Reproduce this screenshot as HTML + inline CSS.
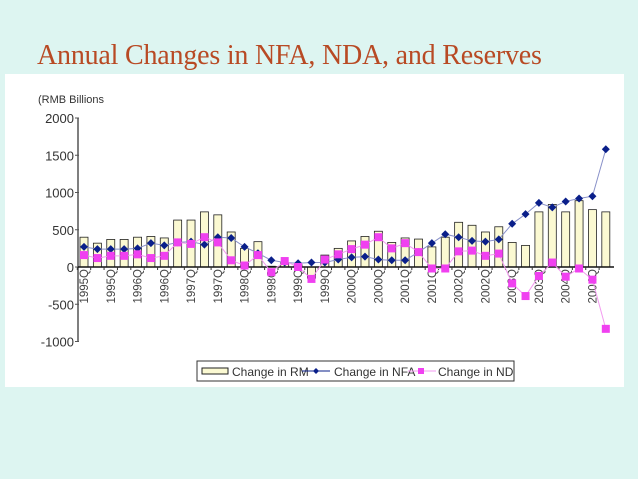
<!DOCTYPE html>
<html><head><meta charset="utf-8"><style>
body{margin:0;width:638px;height:479px;background:#ddf5f1;overflow:hidden;position:relative;font-family:"Liberation Sans",sans-serif}
#title{position:absolute;left:37px;top:40px;font-family:"Liberation Serif",serif;font-size:28px;color:#b84a24;white-space:nowrap;letter-spacing:-0.2px}
#panel{position:absolute;left:5px;top:74px;width:619px;height:313px;background:#fff}
svg{position:absolute;left:0;top:0}
</style></head><body>
<div id="title">Annual Changes in NFA, NDA, and Reserves</div>
<div id="panel"></div>
<svg id="chart" width="638" height="479"></svg>
<script>
const quarters=[];for(let y=1995;y<=2004;y++)for(let q=1;q<=4;q++)quarters.push(y+"Q"+q);
const rmValues=[400,320,370,370,400,410,390,630,630,740,700,470,250,340,10,60,30,-150,160,250,350,410,480,330,390,375,270,400,600,560,470,540,330,290,740,840,740,890,770,740];
const nfaValues=[270,240,240,240,250,320,290,330,340,300,400,390,270,185,90,60,50,60,60,100,130,140,100,90,90,200,320,440,400,350,340,370,580,710,860,800,880,920,950,1580];
const ndaValues=[160,120,150,150,170,120,150,330,310,400,330,90,20,160,-70,80,0,-160,100,170,240,300,400,250,320,200,-20,-20,210,220,150,180,-220,-390,-120,60,-130,-20,-170,-830];
const yTicks=[2000,1500,1000,500,0,-500,-1000];
const NS="http://www.w3.org/2000/svg",svg=document.getElementById('chart');
const y=v=>267-v*0.0745, x=i=>84+i*13.38;
function mk(t,a,name,txt){const e=document.createElementNS(NS,t);for(const k in a)e.setAttribute(k,a[k]);if(txt!==undefined)e.textContent=txt;svg.appendChild(e);return e;}
mk('text',{x:38,y:103,'font-size':11,fill:'#333'},'y-axis-unit','(RMB Billions');
mk('line',{x1:78,y1:y(2000),x2:78,y2:y(-1000),stroke:'#555','stroke-width':1.5},'y-axis');
yTicks.forEach(t=>{const tk=mk('line',{x1:75,y1:y(t),x2:79,y2:y(t),stroke:'#555'},'y-tick');
const lb=mk('text',{x:74,y:y(t)+5,'font-size':13,'text-anchor':'end',fill:'#333'},'y-tick-label',String(t));});
rmValues.forEach((v,i)=>{const b=mk('rect',{x:x(i)-4,y:Math.min(y(v),y(0)),width:8,height:Math.abs(y(v)-y(0)),fill:'#fbf9d2',stroke:'#222','stroke-width':0.8},'bar-rm');});
mk('line',{x1:78,y1:y(0),x2:614,y2:y(0),stroke:'#111','stroke-width':1.5},'x-axis');
quarters.forEach((q,i)=>{mk('line',{x1:x(i)-6.7,y1:y(0),x2:x(i)-6.7,y2:y(0)+3,stroke:'#333'},'x-tick');
if(i%2===0){mk('text',{x:0,y:0,'font-size':11.5,fill:'#444','text-anchor':'end',transform:`translate(${x(i)+4},${y(0)+2}) rotate(-90)`},'x-tick-label',q.slice(0,5));}});
function series(vals,color,name,marker){const pts=vals.map((v,i)=>x(i)+','+y(v)).join(' ');
mk('polyline',{points:pts,fill:'none',stroke:color,'stroke-width':1},name+'-line');
vals.forEach((v,i)=>{if(marker==='d')mk('polygon',{points:`${x(i)},${y(v)-4} ${x(i)+4},${y(v)} ${x(i)},${y(v)+4} ${x(i)-4},${y(v)}`,fill:'#0a1f8a'},name+'-point');
else mk('rect',{x:x(i)-4,y:y(v)-4,width:8,height:8,fill:'#f040f0'},name+'-point');});}
series(nfaValues,'#8890c8','nfa','d');
series(ndaValues,'#f39af0','nda','s');
mk('rect',{x:197,y:361,width:317,height:20,fill:'#fff',stroke:'#333'},'legend-box');
mk('rect',{x:202,y:368,width:26,height:6,fill:'#fbf9d2',stroke:'#222'},'legend-rm-swatch');
mk('text',{x:232,y:376,'font-size':12,fill:'#333'},'legend-rm-label','Change in RM');
mk('line',{x1:302,y1:371,x2:330,y2:371,stroke:'#0a1f8a'},'legend-nfa-line');
mk('polygon',{points:'316,368 319,371 316,374 313,371',fill:'#0a1f8a'},'legend-nfa-marker');
mk('text',{x:334,y:376,'font-size':12,fill:'#333'},'legend-nfa-label','Change in NFA');
mk('line',{x1:408,y1:371,x2:436,y2:371,stroke:'#f39af0'},'legend-nda-line');
mk('rect',{x:418,y:368,width:6,height:6,fill:'#f040f0'},'legend-nda-marker');
mk('text',{x:438,y:376,'font-size':12,fill:'#333'},'legend-nda-label','Change in ND');
</script>
</body></html>
